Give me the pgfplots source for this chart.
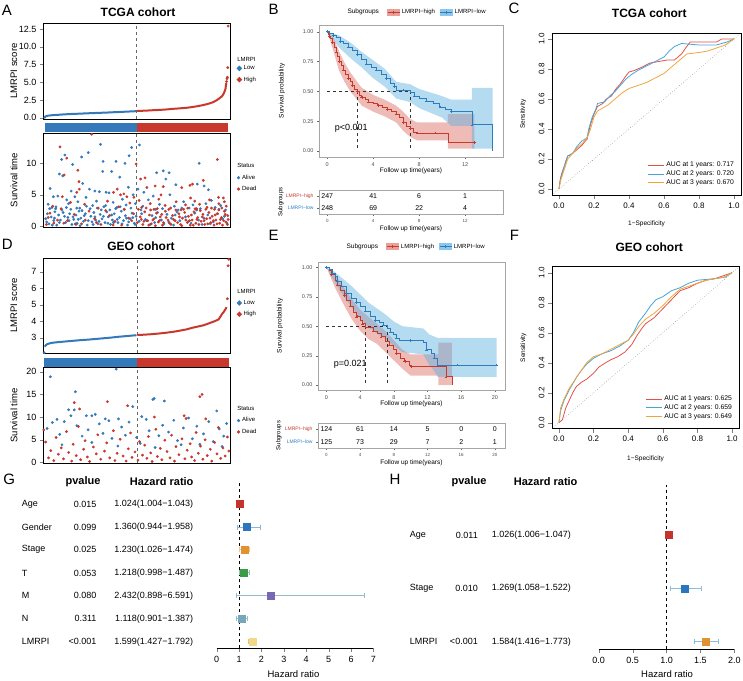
\documentclass[border=0pt]{standalone}
\usepackage{fontspec}
\setmainfont{Liberation Sans}
\usepackage{pgfplots}
\pgfplotsset{compat=1.18}
\newcommand\fs[1]{\fontsize{#1}{#1}\selectfont}
\definecolor{Ab}{RGB}{52,121,186}
\definecolor{Ar}{RGB}{201,56,45}
\definecolor{KMr}{RGB}{198,58,46}
\definecolor{KMb}{RGB}{44,124,190}
\definecolor{KMrf}{RGB}{222,120,112}
\definecolor{KMbf}{RGB}{90,175,225}
\definecolor{Rr}{RGB}{226,80,72}
\definecolor{Rb}{RGB}{70,165,215}
\definecolor{Ro}{RGB}{240,165,60}
\definecolor{Fred}{RGB}{196,52,42}
\definecolor{Fblue}{RGB}{44,118,190}
\definecolor{Forange}{RGB}{226,146,48}
\definecolor{Fgreen}{RGB}{58,155,72}
\definecolor{Fpurple}{RGB}{118,104,178}
\definecolor{Fteal}{RGB}{120,166,186}
\definecolor{Fyellow}{RGB}{243,216,140}
\definecolor{Fci}{RGB}{140,190,222}
\pgfplotsset{
  every axis/.append style={scale only axis, clip mode=individual, /pgf/number format/assume math mode=true},
  riskA/.style={anchor=south west, width=187pt, xtick=\empty,
    tick label style={font=\fs{9}}, ytick align=outside, ytick pos=left, major tick length=3pt,
    axis line style={line width=0.8pt},
    ylabel style={font=\fs{9.5}, at={(rel axis cs:-0.155,0.5)}, anchor=center},
    legend style={draw=none, fill=none, font=\fs{6}, anchor=north west, legend cell align=left, row sep=1.5pt},
    legend image code/.code={\fill (4pt,0pt) circle (1.4pt);}},
  band/.style={anchor=south west, width=187pt, ymin=0, ymax=1, hide axis},
  km/.style={anchor=south west, ymin=-0.05, ymax=1.056, ytick={0,0.25,0.5,0.75,1},
    yticklabel style={/pgf/number format/.cd, fixed, fixed zerofill, precision=2},
    tick label style={font=\fs{5.5}, text=black!70},
    tick align=outside, major tick length=2pt, tick style={black!60}, xtick pos=bottom, ytick pos=left,
    axis line style={black!35}, label style={font=\fs{6.5}},
    xlabel={Follow up time(years)}, ylabel={Survival probability},
    legend style={draw=none, fill=none, font=\fs{6}, legend columns=-1, anchor=west,
      /tikz/every even column/.append style={column sep=3pt}}},
  kmcurve/.style={const plot, line width=0.7pt, mark=+, mark size=1.3pt, mark options={line width=0.4pt}, mark repeat=2},
  kmtab/.style={anchor=south west, ymin=0.5, ymax=2.5, ytick={1,2},
    yticklabels={\textcolor{KMb}{LMRPI−low}, \textcolor{KMr}{LMRPI−high}},
    yticklabel style={font=\fs{5}}, xticklabel style={font=\fs{4.5}, text=black!70},
    tick align=outside, major tick length=2pt, tick style={black!60}, xtick pos=bottom, ytick pos=left,
    axis line style={black!35}, xlabel style={font=\fs{6.5}}, ylabel style={font=\fs{6}},
    xlabel={Follow up time(years)}, ylabel={Subgroups}},
  roc/.style={anchor=south west, xmin=-0.04, xmax=1.04, ymin=-0.04, ymax=1.04,
    xtick={0,0.2,0.4,0.6,0.8,1}, ytick={0,0.2,0.4,0.6,0.8,1},
    xticklabel style={/pgf/number format/.cd, fixed, fixed zerofill, precision=1},
    yticklabel style={rotate=90, anchor=south, /pgf/number format/.cd, fixed, fixed zerofill, precision=1},
    tick align=outside, major tick length=4pt, xtick pos=bottom, ytick pos=left,
    tick label style={font=\fs{8}}, axis line style={line width=0.6pt},
    xlabel={1−Specificity}, ylabel={Sensitivity}, label style={font=\fs{6.5}},
    legend style={at={(0.99,0.03)}, anchor=south east, draw=none, fill=white, font=\fs{6.8},
      legend cell align=left, row sep=-1.5pt},
    legend image code/.code={\draw[line width=1pt] (0pt,0pt)--(16pt,0pt);}},
  forest/.style={anchor=south west, axis y line=none, axis x line*=bottom,
    axis line style={-, line width=0.6pt}, tick align=outside, major tick length=4pt,
    tick label style={font=\fs{9}}, clip=false,
    xlabel={Hazard ratio}, xlabel style={font=\fs{9.5}, anchor=center}},
  fmark/.style={only marks, mark=square*, mark size=3.5pt, mark options={draw=#1, fill=#1}},
  fbar/.style={error bars/.cd, x dir=both, x explicit,
    error bar style={color=#1, line width=1pt},
    error mark options={rotate=90, mark size=2.5pt, color=#1, line width=1pt}},
}
\begin{document}
\begin{tikzpicture}[x=1pt,y=1pt]
\useasboundingbox (0,0) rectangle (743,680);

% ---------- panel letters and titles ----------
\node[font=\fs{15}] at (7,669.5) {A};
\node[font=\fs{15}] at (273.5,670.8) {B};
\node[font=\fs{15}] at (514,671.7) {C};
\node[font=\fs{15}] at (7.2,436) {D};
\node[font=\fs{15}] at (273.5,444.2) {E};
\node[font=\fs{15}] at (514.5,444.2) {F};
\node[font=\fs{15}] at (9.2,200.8) {G};
\node[font=\fs{15}] at (395,200.8) {H};
\node[font=\bfseries\fs{12}] at (138,667.3) {TCGA cohort};
\node[font=\bfseries\fs{12}] at (649.3,666.7) {TCGA cohort};
\node[font=\bfseries\fs{12}] at (141,433.3) {GEO cohort};
\node[font=\bfseries\fs{12}] at (649.3,432.3) {GEO cohort};

% ---------- A: risk score ----------
\begin{axis}[riskA, at={(43pt,561pt)}, height=96pt, xmin=-4, xmax=500, ymin=-0.18, ymax=13.34,
  ytick={0,2.5,5,7.5,10,12.5},
  yticklabel style={/pgf/number format/.cd, fixed, fixed zerofill, precision=1},
  ylabel={LMRPI score}, legend style={at={(1.02,0.6)}}]
\addplot[black!60, dashed, forget plot] coordinates {(248.5,-0.18)(248.5,13.34)};
\addplot[Ab, line width=2pt] coordinates {(2,0.15)(3,0.2)(5,0.24)(8,0.27)(12,0.3)(16,0.33)(20,0.35)(25,0.37)(30,0.39)(37,0.41)(45,0.44)(52,0.47)(60,0.49)(70,0.52)(80,0.54)(90,0.56)(100,0.58)(110,0.61)(120,0.63)(130,0.65)(140,0.67)(150,0.69)(160,0.71)(170,0.73)(180,0.76)(190,0.78)(200,0.8)(210,0.83)(220,0.85)(230,0.88)(240,0.9)(248,0.93)};
\addlegendentry{Low}
\addplot[Ar, line width=2pt] coordinates {(249,0.95)(260,0.97)(275,1.0)(290,1.05)(311,1.1)(330,1.17)(347,1.25)(365,1.32)(383,1.4)(395,1.48)(410,1.6)(425,1.75)(437,1.9)(447,2.05)(455,2.2)(462,2.4)(468,2.6)(473,2.8)(478,3.0)(482,3.3)(484,3.5)(486,3.8)(488,4.1)(489,4.6)(490,4.9)};
\addlegendentry{High}
\addplot[Ab, only marks, mark=*, mark size=1.2pt, forget plot] coordinates {(1,0.05)};
\addplot[Ar, only marks, mark=*, mark size=1.2pt, forget plot] coordinates {(491,5.1)(492,5.5)(493,5.7)(494,7.05)(495,12.9)};
\node[anchor=west, font=\fs{6}] at (rel axis cs:1.02,0.625) {LMRPI};
\end{axis}
\begin{axis}[band, at={(43pt,548pt)}, height=9pt, xmin=-4, xmax=500]
\addplot[fill=Ab, draw=none] coordinates {(0.5,1)(248.5,1)} \closedcycle;
\addplot[fill=Ar, draw=none] coordinates {(248.5,1)(495.5,1)} \closedcycle;
\end{axis}
\begin{axis}[riskA, at={(43pt,453pt)}, height=94pt, xmin=-4, xmax=500, ymin=-0.1, ymax=14.8,
  ytick={0,5,10}, ylabel={Survival time}, legend style={at={(1.02,0.6)}}]
\addplot[black!60, dashed, forget plot] coordinates {(248.5,-0.1)(248.5,14.8)};
\addplot[Ab, only marks, mark=*, mark size=1.2pt] coordinates {
(151,13.0)(235,12.5)(256,12.9)(118,11.7)(100,11.0)(55,11.3)(46,10.6)(228,11.2)(158,10.3)(193,10.3)(217,10.0)(417,10.0)(76,9.8)(40,8.3)(49,8.0)(181,8.7)(157,8.7)(320,8.8)(302,8.5)(336,8.5)(203,7.8)(327,7.5)(103,6.8)(354,6.6)(412,6.7)(430,6.4)(15,6.0)(72,5.6)(121,5.9)(136,5.6)(148,5.5)(166,5.4)(174,5.3)(226,6.2)(239,5.0)(252,5.9)(268,5.4)(293,4.8)(338,5.0)(442,5.8)(24,4.7)(36,4.8)(82,4.7)(112,4.6)
(10,3.5)(20,3.0)(30,2.8)(60,4.2)(65,3.6)(90,3.9)(95,2.9)(130,3.3)(140,4.0)(160,3.1)(185,3.8)(195,3.0)(210,4.3)(220,3.4)(245,3.6)(265,3.2)(280,4.2)(300,2.7)(310,3.5)(350,3.2)(360,2.6)(375,3.9)(390,2.9)(400,3.4)(420,2.8)(435,3.6)(450,4.1)(460,3.0)(475,3.3)(488,2.6)
(3,1.2)(8,2.0)(12,0.4)(18,1.5)(25,0.9)(28,2.3)(33,0.2)(38,1.8)(43,1.0)(50,2.2)(57,0.6)(63,1.4)(68,2.0)(74,0.3)(79,1.1)(85,1.8)(88,0.5)(93,2.4)(98,1.3)(105,0.8)(110,2.0)(115,0.2)(125,1.6)(128,0.7)(133,2.2)(138,1.0)(144,0.4)(150,1.9)(155,1.2)(163,0.6)(168,2.3)(172,1.5)(178,0.3)(183,1.0)(188,2.0)(198,0.6)(202,1.4)(207,2.4)(213,0.9)(218,1.7)(224,0.2)(231,1.2)(236,2.1)(242,0.5)(247,1.6)(255,0.8)(262,2.0)(272,1.1)(285,0.3)(290,1.7)(297,0.6)(305,2.2)(315,1.0)(322,0.4)(330,1.9)(342,1.3)(348,0.2)(357,2.3)(365,0.9)(380,1.5)(395,0.5)(405,2.1)(415,1.0)(425,0.3)(440,1.8)(455,0.7)(465,2.0)(480,1.2)(492,0.5)
(6,0.7)(14,2.8)(21,0.2)(27,1.3)(31,3.1)(40,0.6)(47,2.6)(54,1.6)(59,3.0)(66,0.9)(71,2.7)(77,1.5)(83,0.4)(87,2.9)(91,1.1)(96,0.1)(101,2.5)(107,1.7)(113,3.2)(118,0.9)(123,2.8)(131,0.3)(136,1.5)(142,2.9)(147,0.8)(153,2.6)(159,1.6)(165,3.3)(171,0.5)(176,2.6)(181,1.8)(186,0.6)(192,2.8)(196,1.1)(204,3.1)(209,0.4)(215,2.7)(221,1.3)(227,0.7)(233,2.9)(238,1.4)(244,0.3)(260,2.6)(275,0.9)(300,1.4)(318,2.8)(335,0.7)(352,1.8)(370,2.9)(388,0.8)(410,2.6)(430,1.3)(447,0.4)(470,2.7)(485,1.6)};
\addlegendentry{Alive}
\addplot[Ar, only marks, mark=*, mark size=1.2pt] coordinates {
(127,14.6)(42,12.6)(60,10.8)(247,9.9)(466,10.6)(90,8.9)(53,8.15)(259,7.5)(271,7.7)(93,7.1)(428,7.3)(392,6.5)(399,6.7)(320,6.3)(370,6.15)(298,6.4)(276,6.15)(87,5.4)(94,5.9)(186,5.4)(196,5.9)(205,5.0)(214,5.15)(222,4.7)(241,4.6)(314,5.0)(394,4.5)(469,4.6)(482,4.5)(48,4.7)
(22,3.2)(70,3.8)(108,3.5)(145,2.9)(170,4.0)(200,3.1)(230,3.7)(255,4.1)(262,3.0)(285,3.6)(295,2.7)(308,4.3)(325,3.3)(340,2.9)(355,3.9)(368,2.6)(380,3.4)(405,4.0)(410,2.8)(418,3.5)(438,3.0)(445,4.2)(458,2.7)(470,3.6)(478,2.9)(485,3.9)(490,3.2)
(5,0.3)(15,2.1)(35,1.0)(52,0.5)(80,1.9)(100,0.4)(120,2.4)(135,1.2)(152,0.3)(175,1.7)(190,0.8)(208,0.2)(227,1.3)(240,2.0)(250,0.6)(258,1.5)(265,0.3)(270,2.3)(278,0.9)(283,1.8)(288,0.4)(295,1.2)(302,2.1)(307,0.7)(312,1.5)(318,0.2)(326,2.4)(333,1.0)(337,0.5)(345,1.7)(352,0.9)(362,2.0)(367,0.3)(372,1.3)(378,2.2)(385,0.6)(388,1.6)(393,0.2)(398,1.0)(403,2.3)(408,0.5)(413,1.4)(422,0.8)(427,1.9)(432,0.3)(437,1.2)(443,2.2)(448,0.6)(452,1.6)(457,0.2)(462,1.0)(467,2.0)(472,0.5)(477,1.4)(483,0.9)(487,1.9)(493,0.3)(495,1.1)
(10,1.4)(25,0.5)(45,2.8)(62,0.9)(85,0.3)(110,1.0)(140,0.6)(165,2.5)(185,0.2)(215,2.7)(235,0.9)(253,2.7)(261,1.1)(268,0.8)(274,2.9)(281,0.2)(286,2.6)(292,1.0)(299,0.1)(304,2.8)(310,0.9)(316,1.9)(321,0.6)(328,1.4)(335,2.7)(341,0.3)(348,1.1)(354,2.6)(359,0.6)(364,1.5)(370,0.1)(375,2.7)(381,1.0)(386,2.9)(391,0.9)(396,1.8)(401,0.2)(406,2.8)(411,1.1)(416,0.3)(420,2.5)(425,1.5)(430,0.9)(435,2.7)(440,0.4)(446,1.3)(450,2.9)(455,0.9)(460,1.8)(465,0.4)(470,2.6)(474,1.1)(480,0.2)(485,2.4)(489,0.7)(494,1.7)};
\addlegendentry{Dead}
\node[anchor=west, font=\fs{6}] at (rel axis cs:1.02,0.65) {Status};
\end{axis}

% ---------- D: risk score ----------
\begin{axis}[riskA, at={(43pt,327pt)}, height=95pt, xmin=-0.5, xmax=250.5, ymin=2.07, ymax=7.83,
  ytick={3,4,5,6,7}, ylabel={LMRPI score}, legend style={at={(1.02,0.6)}}]
\addplot[black!60, dashed, forget plot] coordinates {(125.5,2.07)(125.5,7.83)};
\addplot[Ab, line width=2pt] coordinates {(2,2.45)(3,2.53)(5,2.6)(8,2.65)(12,2.69)(16,2.71)(20,2.73)(30,2.77)(40,2.81)(50,2.85)(60,2.88)(70,2.92)(80,2.96)(90,3.0)(100,3.05)(110,3.09)(120,3.13)(125,3.15)};
\addlegendentry{Low}
\addplot[Ar, line width=2pt] coordinates {(126,3.16)(135,3.18)(145,3.21)(155,3.25)(165,3.3)(175,3.36)(185,3.44)(192,3.5)(200,3.6)(208,3.68)(215,3.75)(220,3.83)(224,3.9)(230,4.0)(235,4.1)(238,4.3)(240,4.45)(242,4.55)(244,4.7)(246,4.85)};
\addlegendentry{High}
\addplot[Ab, only marks, mark=*, mark size=1.2pt, forget plot] coordinates {(1,2.09)};
\addplot[Ar, only marks, mark=*, mark size=1.2pt, forget plot] coordinates {(247,5.36)(248,7.36)(249,7.75)};
\node[anchor=west, font=\fs{6}] at (rel axis cs:1.02,0.65) {LMRPI};
\end{axis}
\begin{axis}[band, at={(43pt,313.3pt)}, height=8.7pt, xmin=-0.5, xmax=250.5]
\addplot[fill=Ab, draw=none] coordinates {(0.5,1)(125.5,1)} \closedcycle;
\addplot[fill=Ar, draw=none] coordinates {(125.5,1)(249.5,1)} \closedcycle;
\end{axis}
\begin{axis}[riskA, at={(43pt,217pt)}, height=95.3pt, xmin=-0.5, xmax=250.5, ymin=-0.13, ymax=20.9,
  ytick={0,5,10,15,20}, ylabel={Survival time}, legend style={at={(1.02,0.52)}}]
\addplot[black!60, dashed, forget plot] coordinates {(125.5,-0.13)(125.5,20.9)};
\addplot[Ab, only marks, mark=*, mark size=1.2pt] coordinates {
(9.4,18.9)(97.8,20.6)(42.9,15.6)(33.9,11.6)(41.5,11.6)(37,10.3)(57.6,10.3)(65,10.3)(69.7,10.6)(120,12.3)(147,13.9)(148.7,14.1)(162.5,13.55)(232.7,11.35)(132,10.1)(18.3,9.5)(83,9.6)(100.9,9.6)
(5,7.5)(12,8.8)(22,6.2)(28,9.0)(45,8.1)(52,5.8)(60,7.2)(75,8.5)(80,6.4)(88,9.2)(92,5.3)(105,7.8)(110,6.0)(115,8.9)(125,5.5)(138,9.5)(142,7.0)(155,5.9)(160,8.2)(168,6.7)(175,9.3)(180,4.8)(188,7.6)(195,9.8)(200,5.2)(206,8.0)(215,6.3)(222,9.0)(228,4.6)(236,7.4)(242,5.8)(246,8.6)(25,3.9)(65,4.4)(100,3.6)(130,4.2)(150,3.3)(185,3.9)(210,4.0)(240,3.5)};
\addlegendentry{Alive}
\addplot[Ar, only marks, mark=*, mark size=1.2pt] coordinates {
(41.5,13.2)(48.6,11.8)(86,13.4)(113,12.5)(210,14.5)(213,15.0)(149,10.0)(188.9,10.3)(191.6,9.7)(218,9.6)(0.5,7.2)
(3,4.5)(7,1.0)(10,2.6)(14,0.4)(17,5.5)(20,1.8)(24,3.2)(27,0.8)(31,6.8)(34,2.2)(38,0.3)(40,4.0)(44,1.5)(47,7.9)(50,0.6)(54,2.9)(56,4.8)(59,1.2)(62,0.2)(67,3.4)(71,1.9)(73,6.1)(77,0.7)(82,2.5)(85,4.3)(89,1.0)(94,7.0)(96,0.4)(99,2.0)(103,5.1)(107,1.4)(111,0.3)(114,3.0)(117,6.5)(119,1.1)(123,2.3)(127,0.5)(129,4.6)(133,1.6)(136,3.8)(139,0.9)(141,5.7)(144,2.1)(146,0.2)(151,7.3)(153,1.3)(157,3.1)(159,0.6)(163,4.9)(166,2.4)(170,1.0)(172,6.0)(176,0.3)(178,3.5)(182,1.7)(186,5.2)(190,0.8)(193,2.7)(197,4.1)(199,1.2)(203,0.4)(205,6.6)(208,2.0)(211,3.6)(214,0.7)(217,5.0)(220,1.5)(224,2.9)(226,0.3)(230,4.4)(233,1.9)(235,7.7)(238,0.9)(241,3.2)(244,1.4)(247,5.6)(249,2.5)};
\addlegendentry{Dead}
\node[anchor=west, font=\fs{6}] at (rel axis cs:1.02,0.57) {Status};
\end{axis}

% ---------- B: KM TCGA ----------
\begin{axis}[km, at={(319pt,523pt)}, width=184pt, height=132pt, xmin=-0.72, xmax=15.3, xtick={0,4,8,12},
  xlabel style={at={(rel axis cs:0.5,-0.105)}, anchor=center},
  ylabel style={at={(rel axis cs:-0.201,0.5)}, anchor=center},
  legend style={at={(0.353,1.098)}}]
\addplot[fill=KMrf, fill opacity=0.5, draw=none, forget plot] coordinates {(0,1)(0.5,0.96)(1,0.84)(1.5,0.74)(2,0.66)(2.6,0.58)(3,0.53)(4,0.47)(5,0.43)(6,0.38)(6.6,0.33)(7.2,0.27)(7.8,0.24)(10.5,0.24)(10.5,0.31)(12.8,0.31)
 (12.8,0.02)(10.5,0.02)(10.5,0.09)(7.8,0.09)(7.2,0.12)(6.6,0.17)(6,0.24)(5,0.29)(4,0.33)(3,0.38)(2.6,0.43)(2,0.5)(1.5,0.58)(1,0.68)(0.5,0.85)(0,1)};
\addplot[fill=KMbf, fill opacity=0.45, draw=none, forget plot] coordinates {(0,1)(1,0.97)(2,0.91)(3,0.83)(4,0.76)(5,0.69)(6,0.58)(7.2,0.56)(8,0.52)(9,0.49)(10,0.46)(10.8,0.43)(12.6,0.43)(12.6,0.53)(14.4,0.53)
 (14.4,0.02)(12.6,0.02)(12.6,0.21)(10.8,0.21)(10,0.28)(9,0.32)(8,0.36)(7.2,0.41)(6,0.44)(5,0.54)(4,0.61)(3,0.7)(2,0.78)(1,0.87)(0,1)};
\addplot[black!80, dashed, forget plot] coordinates {(0,0.5)(7.2,0.5)};
\addplot[black!80, dashed, forget plot] coordinates {(2.6,0.5)(2.6,0)};
\addplot[black!80, dashed, forget plot] coordinates {(7.2,0.5)(7.2,0)};
\addplot[KMr, kmcurve,
  legend image code/.code={\fill[KMrf!70] (0pt,-3pt) rectangle (12pt,3pt); \draw[line width=0.7pt] (0pt,0pt)--(12pt,0pt); \draw (6pt,-1.5pt)--(6pt,1.5pt);}]
  coordinates {(0,1)(0.1,0.98)(0.2,0.96)(0.3,0.94)(0.45,0.91)(0.6,0.87)(0.75,0.83)(0.9,0.79)(1.05,0.75)(1.2,0.72)(1.4,0.68)(1.6,0.64)(1.8,0.61)(2.0,0.58)(2.2,0.55)(2.4,0.52)(2.6,0.5)(2.8,0.47)(3.0,0.45)(3.3,0.43)(3.6,0.41)(4.0,0.40)(4.4,0.38)(4.8,0.37)(5.2,0.35)(5.6,0.33)(6.0,0.31)(6.3,0.28)(6.6,0.24)(6.9,0.21)(7.2,0.19)(7.5,0.16)(7.8,0.15)(8.6,0.15)(9.4,0.15)(10.5,0.07)(12.8,0.07)};
\addlegendentry{LMRPI−high}
\addplot[KMb, kmcurve,
  legend image code/.code={\fill[KMbf!70] (0pt,-3pt) rectangle (12pt,3pt); \draw[line width=0.7pt] (0pt,0pt)--(12pt,0pt); \draw (6pt,-1.5pt)--(6pt,1.5pt);}]
  coordinates {(0,1)(0.2,0.99)(0.5,0.97)(0.8,0.95)(1.1,0.92)(1.4,0.9)(1.8,0.87)(2.2,0.84)(2.6,0.81)(3.0,0.77)(3.4,0.73)(3.8,0.7)(4.3,0.68)(4.7,0.64)(5.1,0.61)(5.5,0.57)(5.8,0.54)(6.0,0.51)(6.6,0.51)(7.2,0.49)(7.6,0.46)(8.0,0.44)(8.6,0.42)(9.2,0.4)(9.8,0.37)(10.3,0.35)(10.8,0.33)(11.7,0.33)(12.6,0.22)(14.4,0)};
\addlegendentry{LMRPI−low}
\node[anchor=west, font=\fs{9}] at (axis cs:0.35,0.19) {p<0.001};
\node[anchor=east, font=\fs{6.5}] at (rel axis cs:0.345,1.098) {Subgroups};
\end{axis}
\begin{axis}[kmtab, at={(319pt,466pt)}, width=184pt, height=24pt, xmin=-0.72, xmax=15.3, xtick={0,4,8,12},
  xlabel style={at={(rel axis cs:0.5,-0.6)}, anchor=center},
  ylabel style={at={(rel axis cs:-0.208,0.5)}, anchor=center}]
\node[font=\fs{7}] at (axis cs:0,2) {247}; \node[font=\fs{7}] at (axis cs:4,2) {41};
\node[font=\fs{7}] at (axis cs:8,2) {6}; \node[font=\fs{7}] at (axis cs:12,2) {1};
\node[font=\fs{7}] at (axis cs:0,1) {248}; \node[font=\fs{7}] at (axis cs:4,1) {69};
\node[font=\fs{7}] at (axis cs:8,1) {22}; \node[font=\fs{7}] at (axis cs:12,1) {4};
\end{axis}

% ---------- E: KM GEO ----------
\begin{axis}[km, at={(318pt,290pt)}, width=187pt, height=128pt, xmin=-1, xmax=21.2, ymin=-0.042, ymax=1.045,
  xtick={0,4,8,12,16,20},
  xlabel style={at={(rel axis cs:0.5,-0.11)}, anchor=center},
  ylabel style={at={(rel axis cs:-0.203,0.5)}, anchor=center},
  legend style={at={(0.348,1.12)}}]
\addplot[fill=KMrf, fill opacity=0.5, draw=none, forget plot] coordinates {(0,1)(1,0.94)(2,0.84)(3,0.73)(4,0.64)(5,0.58)(6,0.52)(7,0.46)(8,0.38)(9,0.3)(10,0.26)(13.3,0.26)(13.3,0.36)(14.9,0.36)
 (14.9,0)(13.3,0)(13.3,0.08)(10,0.08)(9,0.14)(8,0.21)(7,0.28)(6,0.35)(5,0.39)(4,0.46)(3,0.56)(2,0.69)(1,0.83)(0,1)};
\addplot[fill=KMbf, fill opacity=0.45, draw=none, forget plot] coordinates {(0,1)(1,0.96)(2,0.9)(3,0.84)(4,0.77)(5,0.7)(6,0.65)(7,0.6)(8,0.54)(9,0.5)(11.5,0.48)(12.2,0.43)(13.2,0.4)(20.2,0.4)
 (20.2,0.07)(13.2,0.07)(12.8,0.12)(12.2,0.17)(11.5,0.26)(9,0.28)(8,0.33)(7,0.39)(6,0.44)(5,0.49)(4,0.57)(3,0.66)(2,0.76)(1,0.87)(0,1)};
\addplot[black!80, dashed, forget plot] coordinates {(0,0.5)(7.2,0.5)};
\addplot[black!80, dashed, forget plot] coordinates {(4.6,0.5)(4.6,0)};
\addplot[black!80, dashed, forget plot] coordinates {(7.2,0.5)(7.2,0)};
\addplot[KMr, kmcurve,
  legend image code/.code={\fill[KMrf!70] (0pt,-3pt) rectangle (12pt,3pt); \draw[line width=0.7pt] (0pt,0pt)--(12pt,0pt); \draw (6pt,-1.5pt)--(6pt,1.5pt);}]
  coordinates {(0,1)(0.3,0.97)(0.6,0.94)(1,0.89)(1.3,0.85)(1.7,0.8)(2.1,0.76)(2.4,0.72)(2.8,0.67)(3.2,0.62)(3.6,0.58)(4.0,0.55)(4.3,0.52)(4.6,0.49)(5.6,0.46)(6.0,0.44)(6.5,0.41)(7.0,0.37)(7.5,0.34)(7.9,0.3)(8.3,0.27)(8.8,0.23)(9.3,0.2)(9.8,0.17)(10.1,0.16)(11.4,0.16)(14.2,0.07)(14.9,0.0)};
\addlegendentry{LMRPI−high}
\addplot[KMb, kmcurve,
  legend image code/.code={\fill[KMbf!70] (0pt,-3pt) rectangle (12pt,3pt); \draw[line width=0.7pt] (0pt,0pt)--(12pt,0pt); \draw (6pt,-1.5pt)--(6pt,1.5pt);}]
  coordinates {(0,1)(0.3,0.98)(0.7,0.95)(1,0.92)(1.3,0.88)(1.8,0.84)(2.4,0.78)(3,0.74)(3.5,0.7)(4,0.67)(4.6,0.63)(5.2,0.58)(5.8,0.55)(6.3,0.53)(6.7,0.51)(7.2,0.48)(7.6,0.45)(7.9,0.43)(8.3,0.4)(8.7,0.38)(10,0.38)(11.5,0.36)(11.9,0.3)(12.4,0.27)(12.8,0.23)(13.2,0.17)(15.5,0.17)(18.6,0.17)(20.2,0.17)};
\addlegendentry{LMRPI−low}
\node[anchor=west, font=\fs{9}] at (axis cs:0.47,0.18) {p=0.021};
\node[anchor=east, font=\fs{6.5}] at (rel axis cs:0.34,1.12) {Subgroups};
\end{axis}
\begin{axis}[kmtab, at={(318pt,232pt)}, width=187pt, height=25pt, xmin=-1, xmax=21.2, xtick={0,4,8,12,16,20},
  xlabel style={at={(rel axis cs:0.5,-0.6)}, anchor=center},
  ylabel style={at={(rel axis cs:-0.21,0.5)}, anchor=center}]
\node[font=\fs{7}] at (axis cs:0,2) {124}; \node[font=\fs{7}] at (axis cs:4,2) {61};
\node[font=\fs{7}] at (axis cs:8,2) {14}; \node[font=\fs{7}] at (axis cs:12,2) {5};
\node[font=\fs{7}] at (axis cs:16,2) {0}; \node[font=\fs{7}] at (axis cs:20,2) {0};
\node[font=\fs{7}] at (axis cs:0,1) {125}; \node[font=\fs{7}] at (axis cs:4,1) {73};
\node[font=\fs{7}] at (axis cs:8,1) {29}; \node[font=\fs{7}] at (axis cs:12,1) {7};
\node[font=\fs{7}] at (axis cs:16,1) {2}; \node[font=\fs{7}] at (axis cs:20,1) {1};
\end{axis}

% ---------- C: ROC TCGA ----------
\begin{axis}[roc, at={(552pt,485pt)}, width=189pt, height=162pt,
  xlabel style={at={(rel axis cs:0.5,-0.179)}, anchor=center},
  ylabel style={at={(rel axis cs:-0.153,0.5)}, anchor=center}]
\addplot[black!70, dotted, forget plot] coordinates {(-0.04,-0.04)(1.04,1.04)};
\addplot[Rr, line width=0.8pt] coordinates {(0,0)(0.005,0.05)(0.01,0.08)(0.02,0.12)(0.03,0.15)(0.04,0.19)(0.05,0.22)(0.07,0.23)(0.09,0.25)(0.11,0.27)(0.13,0.29)(0.15,0.32)(0.16,0.33)(0.17,0.38)(0.18,0.43)(0.2,0.5)(0.22,0.55)(0.25,0.57)(0.27,0.6)(0.3,0.62)(0.32,0.66)(0.35,0.7)(0.38,0.75)(0.4,0.78)(0.43,0.79)(0.47,0.81)(0.52,0.84)(0.57,0.85)(0.62,0.86)(0.66,0.86)(0.7,0.9)(0.73,0.95)(0.75,0.98)(0.9,0.98)(0.93,1.0)(1,1)};
\addlegendentry{AUC at 1 years: 0.717}
\addplot[Rb, line width=0.8pt] coordinates {(0,0)(0.01,0.07)(0.03,0.15)(0.05,0.22)(0.08,0.24)(0.1,0.28)(0.13,0.32)(0.16,0.34)(0.17,0.4)(0.19,0.48)(0.21,0.53)(0.22,0.57)(0.26,0.58)(0.29,0.62)(0.32,0.65)(0.35,0.69)(0.38,0.73)(0.41,0.76)(0.45,0.79)(0.5,0.82)(0.55,0.85)(0.6,0.88)(0.63,0.92)(0.66,0.95)(0.7,0.97)(0.8,0.96)(0.9,0.96)(0.96,0.98)(1,1)};
\addlegendentry{AUC at 2 years: 0.720}
\addplot[Ro, line width=0.8pt] coordinates {(0,0)(0.01,0.06)(0.03,0.13)(0.05,0.2)(0.08,0.24)(0.1,0.27)(0.13,0.3)(0.16,0.34)(0.18,0.4)(0.2,0.48)(0.22,0.52)(0.25,0.54)(0.28,0.56)(0.32,0.6)(0.36,0.64)(0.4,0.67)(0.45,0.69)(0.5,0.71)(0.55,0.74)(0.6,0.77)(0.63,0.8)(0.66,0.83)(0.7,0.87)(0.73,0.9)(0.8,0.91)(0.85,0.92)(0.9,0.94)(0.95,0.96)(1,1)};
\addlegendentry{AUC at 3 years: 0.670}
\end{axis}

% ---------- F: ROC GEO ----------
\begin{axis}[roc, at={(552pt,251.3pt)}, width=187pt, height=162pt,
  xlabel style={at={(rel axis cs:0.5,-0.187)}, anchor=center},
  ylabel style={at={(rel axis cs:-0.153,0.5)}, anchor=center}]
\addplot[black!70, dotted, forget plot] coordinates {(-0.04,-0.04)(1.04,1.04)};
\addplot[Rr, line width=0.8pt] coordinates {(0,0)(0.02,0.02)(0.04,0.1)(0.06,0.15)(0.08,0.2)(0.1,0.24)(0.13,0.27)(0.16,0.29)(0.2,0.33)(0.23,0.37)(0.27,0.4)(0.3,0.42)(0.34,0.44)(0.38,0.47)(0.42,0.52)(0.45,0.58)(0.48,0.63)(0.5,0.66)(0.55,0.7)(0.6,0.76)(0.65,0.82)(0.7,0.88)(0.75,0.9)(0.8,0.93)(0.85,0.95)(0.9,0.96)(0.95,0.98)(1,1)};
\addlegendentry{AUC at 1 years: 0.625}
\addplot[Rb, line width=0.8pt] coordinates {(0,0)(0.01,0.08)(0.03,0.15)(0.06,0.22)(0.1,0.3)(0.13,0.35)(0.16,0.39)(0.2,0.43)(0.25,0.46)(0.3,0.48)(0.35,0.51)(0.4,0.55)(0.43,0.6)(0.46,0.67)(0.5,0.73)(0.53,0.78)(0.56,0.82)(0.6,0.84)(0.65,0.88)(0.7,0.9)(0.75,0.93)(0.8,0.95)(0.9,0.96)(0.96,0.97)(1,1)};
\addlegendentry{AUC at 2 years: 0.659}
\addplot[Ro, line width=0.8pt] coordinates {(0,0)(0.01,0.1)(0.03,0.16)(0.06,0.23)(0.1,0.3)(0.13,0.35)(0.16,0.4)(0.2,0.44)(0.25,0.46)(0.3,0.49)(0.35,0.52)(0.4,0.55)(0.43,0.59)(0.46,0.64)(0.5,0.69)(0.55,0.73)(0.6,0.78)(0.65,0.84)(0.7,0.89)(0.75,0.91)(0.8,0.93)(0.85,0.95)(0.9,0.96)(0.95,0.97)(1,1)};
\addlegendentry{AUC at 3 years: 0.649}
\end{axis}

% ---------- G: forest TCGA ----------
\begin{axis}[forest, at={(216.7pt,31.7pt)}, width=156.7pt, height=165.3pt, xmin=0, xmax=7, ymin=0.71, ymax=7.92,
  xtick={0,1,2,3,4,5,6,7}, xlabel style={at={(rel axis cs:0.49,-0.155)}}]
\addplot[black, line width=1pt, dash pattern=on 3.5pt off 2.5pt] coordinates {(1,0.71)(1,7.92)};
\addplot[fmark=Fred, fbar=Fred!55] coordinates {(1.024,7) += (0.019,0) -= (0.020,0)};
\addplot[fmark=Fblue, fbar=Fblue!55] coordinates {(1.360,6) += (0.598,0) -= (0.416,0)};
\addplot[fmark=Forange, fbar=Forange!55] coordinates {(1.230,5) += (0.244,0) -= (0.204,0)};
\addplot[fmark=Fgreen, fbar=Fgreen!55] coordinates {(1.218,4) += (0.269,0) -= (0.220,0)};
\addplot[fmark=Fpurple, fbar=Fteal!75] coordinates {(2.432,3) += (4.159,0) -= (1.534,0)};
\addplot[fmark=Fteal, fbar=Fteal!75] coordinates {(1.118,2) += (0.269,0) -= (0.217,0)};
\addplot[fmark=Fyellow, fbar=Fyellow!90!black] coordinates {(1.599,1) += (0.193,0) -= (0.172,0)};
\end{axis}
\begin{scope}[font=\fs{9}]
\node[font=\bfseries\fs{11}] at (83,198.3) {pvalue};
\node[font=\bfseries\fs{11}, anchor=east] at (197,198.3) {Hazard ratio};
\node[anchor=west] at (18.3,176) {Age};    \node[anchor=east] at (100,176) {0.015};  \node[anchor=east] at (196.7,176) {1.024(1.004−1.043)};
\node[anchor=west] at (18.3,152.7) {Gender}; \node[anchor=east] at (100,152.7) {0.099}; \node[anchor=east] at (196.7,152.7) {1.360(0.944−1.958)};
\node[anchor=west] at (18.3,130.3) {Stage}; \node[anchor=east] at (100,130.3) {0.025}; \node[anchor=east] at (196.7,130.3) {1.230(1.026−1.474)};
\node[anchor=west] at (18.3,107) {T};      \node[anchor=east] at (100,107) {0.053};   \node[anchor=east] at (196.7,107) {1.218(0.998−1.487)};
\node[anchor=west] at (18.3,84.3) {M};     \node[anchor=east] at (100,84.3) {0.080};  \node[anchor=east] at (196.7,84.3) {2.432(0.898−6.591)};
\node[anchor=west] at (18.3,61.3) {N};     \node[anchor=east] at (100,61.3) {0.311};  \node[anchor=east] at (196.7,61.3) {1.118(0.901−1.387)};
\node[anchor=west] at (18.3,38.3) {LMRPI}; \node[anchor=east] at (100,38.3) {<0.001}; \node[anchor=east] at (196.7,38.3) {1.599(1.427−1.792)};
\end{scope}

% ---------- H: forest GEO ----------
\begin{axis}[forest, at={(598.7pt,30.7pt)}, width=135.6pt, height=164.3pt, xmin=0, xmax=2, ymin=0.858, ymax=3.937,
  xtick={0,0.5,1,1.5,2},
  xticklabel style={/pgf/number format/.cd, fixed, fixed zerofill, precision=1},
  xlabel style={at={(rel axis cs:0.504,-0.15)}}]
\addplot[black, line width=1pt, dash pattern=on 3.5pt off 2.5pt] coordinates {(1,0.858)(1,3.937)};
\addplot[fmark=Fred, fbar=Fred!55] coordinates {(1.026,3) += (0.021,0) -= (0.020,0)};
\addplot[fmark=Fblue, fbar=Fci] coordinates {(1.269,2) += (0.253,0) -= (0.211,0)};
\addplot[fmark=Forange, fbar=Fci] coordinates {(1.584,1) += (0.189,0) -= (0.168,0)};
\end{axis}
\begin{scope}[font=\fs{9}]
\node[font=\bfseries\fs{11}] at (469,198.3) {pvalue};
\node[font=\bfseries\fs{11}, anchor=east] at (581,198.3) {Hazard ratio};
\node[anchor=west] at (406.3,145) {Age};    \node[anchor=east] at (481.3,145) {0.011};  \node[anchor=east] at (574.3,145) {1.026(1.006−1.047)};
\node[anchor=west] at (406.3,91.7) {Stage}; \node[anchor=east] at (481.3,91.7) {0.010}; \node[anchor=east] at (574.3,91.7) {1.269(1.058−1.522)};
\node[anchor=west] at (406.3,38.3) {LMRPI}; \node[anchor=east] at (481.3,38.3) {<0.001}; \node[anchor=east] at (574.3,38.3) {1.584(1.416−1.773)};
\end{scope}
\end{tikzpicture}
\end{document}
